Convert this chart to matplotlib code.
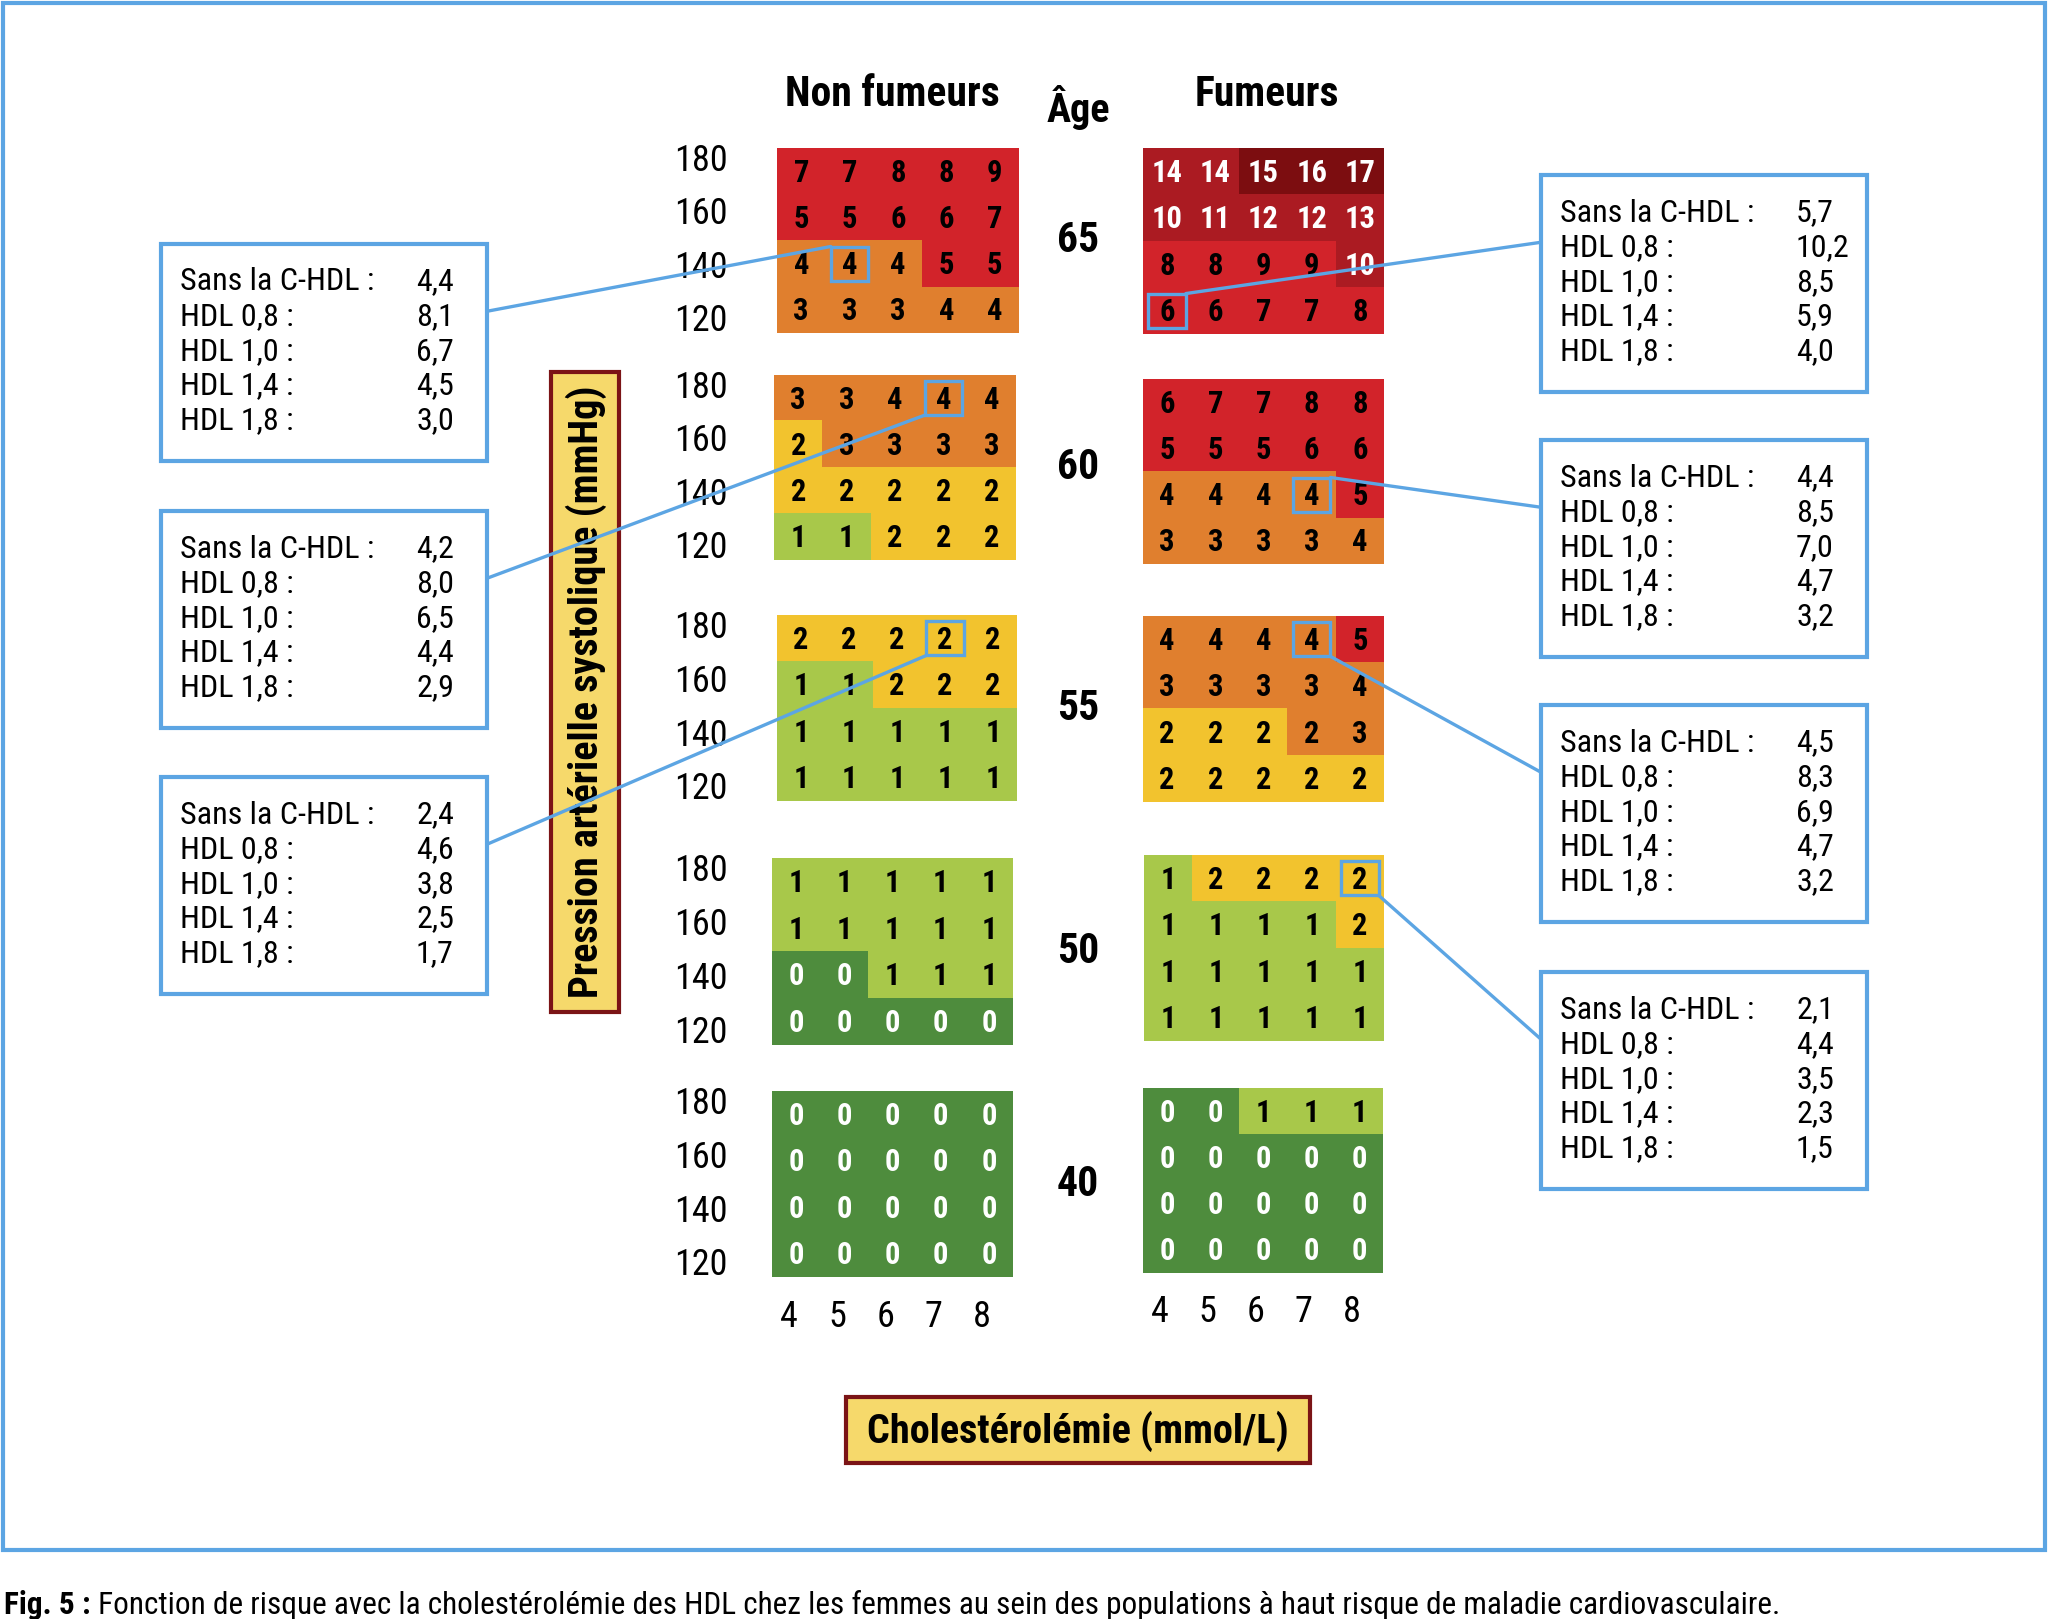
import matplotlib
matplotlib.use("Agg")
import matplotlib.pyplot as plt
from matplotlib import font_manager
from matplotlib.colors import ListedColormap
from matplotlib.patches import Rectangle, ConnectionPatch

# pick a narrow font if one is around, DIN-like look
names = {f.name for f in font_manager.fontManager.ttflist}
FONT = 'DejaVu Sans'
for cand in ['Roboto Condensed', 'Liberation Sans Narrow', 'Open Sans Condensed']:
    if cand in names:
        FONT = cand
        break
plt.rcParams['font.family'] = [FONT, 'DejaVu Sans']

# ---- data ----
ages = [65, 60, 55, 50, 40]
bp_labels = ['180', '160', '140', '120']
chol_labels = ['4', '5', '6', '7', '8']

nf_65 = [[7, 7, 8, 8, 9], [5, 5, 6, 6, 7], [4, 4, 4, 5, 5], [3, 3, 3, 4, 4]]
nf_60 = [[3, 3, 4, 4, 4], [2, 3, 3, 3, 3], [2, 2, 2, 2, 2], [1, 1, 2, 2, 2]]
nf_55 = [[2, 2, 2, 2, 2], [1, 1, 2, 2, 2], [1, 1, 1, 1, 1], [1, 1, 1, 1, 1]]
nf_50 = [[1, 1, 1, 1, 1], [1, 1, 1, 1, 1], [0, 0, 1, 1, 1], [0, 0, 0, 0, 0]]
nf_40 = [[0, 0, 0, 0, 0], [0, 0, 0, 0, 0], [0, 0, 0, 0, 0], [0, 0, 0, 0, 0]]

s_65 = [[14, 14, 15, 16, 17], [10, 11, 12, 12, 13], [8, 8, 9, 9, 10], [6, 6, 7, 7, 8]]
s_60 = [[6, 7, 7, 8, 8], [5, 5, 5, 6, 6], [4, 4, 4, 4, 5], [3, 3, 3, 3, 4]]
s_55 = [[4, 4, 4, 4, 5], [3, 3, 3, 3, 4], [2, 2, 2, 2, 3], [2, 2, 2, 2, 2]]
s_50 = [[1, 2, 2, 2, 2], [1, 1, 1, 1, 2], [1, 1, 1, 1, 1], [1, 1, 1, 1, 1]]
s_40 = [[0, 0, 1, 1, 1], [0, 0, 0, 0, 0], [0, 0, 0, 0, 0], [0, 0, 0, 0, 0]]

nonsmokers = [nf_65, nf_60, nf_55, nf_50, nf_40]
smokers = [s_65, s_60, s_55, s_50, s_40]

# cell shaded one class above its rounded value (smokers 55, 140 mmHg, chol 7)
color_overrides = {('s', 55, 2, 3): 3}

hdl_rows = ['Sans la C-HDL :', 'HDL 0,8 :', 'HDL 1,0 :', 'HDL 1,4 :', 'HDL 1,8 :']
callout_l1 = ['4,4', '8,1', '6,7', '4,5', '3,0']
callout_l2 = ['4,2', '8,0', '6,5', '4,4', '2,9']
callout_l3 = ['2,4', '4,6', '3,8', '2,5', '1,7']
callout_r1 = ['5,7', '10,2', '8,5', '5,9', '4,0']
callout_r2 = ['4,4', '8,5', '7,0', '4,7', '3,2']
callout_r3 = ['4,5', '8,3', '6,9', '4,7', '3,2']
callout_r4 = ['2,1', '4,4', '3,5', '2,3', '1,5']

# ---- style ----
class_colors = ['#4e8c3d', '#a8c84a', '#f2c32e', '#e07f2e', '#d2232a', '#ab1b22', '#7c0d10']
cmap = ListedColormap(class_colors)
BLUE = '#5ca5e3'
BOX_FILL = '#f6d96b'
BOX_EDGE = '#7b1416'


def risk_class(v):
    if v <= 2:
        return v
    if v <= 4:
        return 3
    if v <= 9:
        return 4
    if v <= 14:
        return 5
    return 6


W, H = 2048, 1619
fig = plt.figure(figsize=(W / 100, H / 100), dpi=100)
bg = fig.add_axes([0, 0, 1, 1])
bg.set_xlim(0, W)
bg.set_ylim(H, 0)
bg.axis('off')

# grid rectangles in pixels: (x0, x1, y0, y1)
nf_rects = [(777, 1019, 148, 333), (774, 1016, 375, 560), (777, 1017, 615, 801),
            (772, 1013, 858, 1045), (772, 1013, 1091, 1277)]
s_rects = [(1143, 1384, 148, 334), (1143, 1384, 379, 564), (1143, 1384, 616, 802),
           (1144, 1384, 855, 1041), (1143, 1383, 1088, 1273)]


def grid_axes(rect):
    x0, x1, y0, y1 = rect
    return fig.add_axes([x0 / W, 1 - y1 / H, (x1 - x0) / W, (y1 - y0) / H])


axes = {}
for i, age in enumerate(ages):
    for key, grids, rects in (('nf', nonsmokers, nf_rects), ('s', smokers, s_rects)):
        vals = grids[i]
        cls = [[risk_class(v) for v in row] for row in vals]
        for (k, a, r, c), lev in color_overrides.items():
            if k == key and a == age:
                cls[r][c] = lev
        ax = grid_axes(rects[i])
        ax.imshow(cls, cmap=cmap, vmin=-0.5, vmax=6.5, aspect='auto',
                  interpolation='nearest')
        for r, row in enumerate(vals):
            for c, v in enumerate(row):
                col = 'white' if (v == 0 or v >= 10) else 'black'
                ax.text(c, r + 0.03, str(v), ha='center', va='center',
                        fontsize=22, fontweight='bold', color=col)
        ax.axis('off')
        axes[(key, age)] = ax

    # blood pressure labels, spread a bit wider than the rows
    x0, x1, y0, y1 = nf_rects[i]
    for j, lab in enumerate(bp_labels):
        yy = y0 + (y1 - y0) * (0.07 + j * 0.289)
        bg.text(701, yy, lab, ha='center', va='center', fontsize=26)
    # age in the middle
    bg.text(1078, (y0 + y1) / 2, str(age), ha='center', va='center', fontsize=30,
            fontweight='bold')

# cholesterol ticks under the bottom grids
for key in ('nf', 's'):
    ax = axes[(key, 40)]
    for c, lab in enumerate(chol_labels):
        ax.text(c - 0.15, 4.35, lab, ha='center', va='center', fontsize=26,
                clip_on=False)

# headings
bg.text(892, 94, 'Non fumeurs', ha='center', va='center', fontsize=30, fontweight='bold')
bg.text(1267, 95, 'Fumeurs', ha='center', va='center', fontsize=30, fontweight='bold')
bg.text(1078, 107, 'Âge', ha='center', va='center', fontsize=29, fontweight='bold')

# axis title boxes
bg.add_patch(Rectangle((551, 372), 68, 640, facecolor=BOX_FILL, edgecolor=BOX_EDGE, lw=3))
bg.text(586, 692, 'Pression artérielle systolique (mmHg)', rotation=90,
        ha='center', va='center', fontsize=29, fontweight='bold')
bg.add_patch(Rectangle((846, 1397), 464, 66, facecolor=BOX_FILL, edgecolor=BOX_EDGE, lw=3))
bg.text(1078, 1431, 'Cholestérolémie (mmol/L)', ha='center', va='center',
        fontsize=29, fontweight='bold')

# callout boxes: values, box top-left, target cell, corner of the highlight
callouts = [
    (callout_l1, (161, 244), ('nf', 65, 2, 1), 'tl'),
    (callout_l2, (161, 511), ('nf', 60, 0, 3), 'bl'),
    (callout_l3, (161, 777), ('nf', 55, 0, 3), 'bl'),
    (callout_r1, (1541, 175), ('s', 65, 3, 0), 'tr'),
    (callout_r2, (1541, 440), ('s', 60, 2, 3), 'tr'),
    (callout_r3, (1541, 705), ('s', 55, 0, 3), 'br'),
    (callout_r4, (1541, 972), ('s', 50, 0, 4), 'br'),
]
bw, bh = 326, 217
hw, hh = 0.39, 0.37
for vals, (bx, by), (key, age, r, c), corner in callouts:
    bg.add_patch(Rectangle((bx, by), bw, bh, facecolor='white', edgecolor=BLUE, lw=3))
    for j, (lab, v) in enumerate(zip(hdl_rows, vals)):
        yy = by + 38 + j * 34.7
        bg.text(bx + 19, yy, lab, ha='left', va='center', fontsize=23)
        bg.text(bx + 255, yy, v, ha='left', va='center', fontsize=23)
    ax = axes[(key, age)]
    ax.add_patch(Rectangle((c - hw, r - hh), 2 * hw, 2 * hh, fill=False,
                           edgecolor=BLUE, lw=2.4, zorder=5))
    cx = c - hw if corner[1] == 'l' else c + hw
    cy = r - hh if corner[0] == 't' else r + hh
    sx = bx + bw if bx < 1000 else bx
    sy = by + 0.31 * bh
    con = ConnectionPatch(xyA=(sx, sy), coordsA=bg.transData, xyB=(cx, cy),
                          coordsB=ax.transData, color=BLUE, lw=2.4)
    fig.add_artist(con)

# outer frame
bg.add_patch(Rectangle((3, 3), 2042, 1547, fill=False, edgecolor=BLUE, lw=3))

# caption
fig_lab = bg.text(4, 1605, 'Fig. 5 :', ha='left', va='center', fontsize=22.5,
                  fontweight='bold')
bg.annotate(' Fonction de risque avec la cholestérolémie des HDL chez les femmes au sein '
            'des populations à haut risque de maladie cardiovasculaire.',
            xy=(1, 0.5), xycoords=fig_lab, ha='left', va='center', fontsize=22.5)

fig.savefig('out.png', dpi=100)
